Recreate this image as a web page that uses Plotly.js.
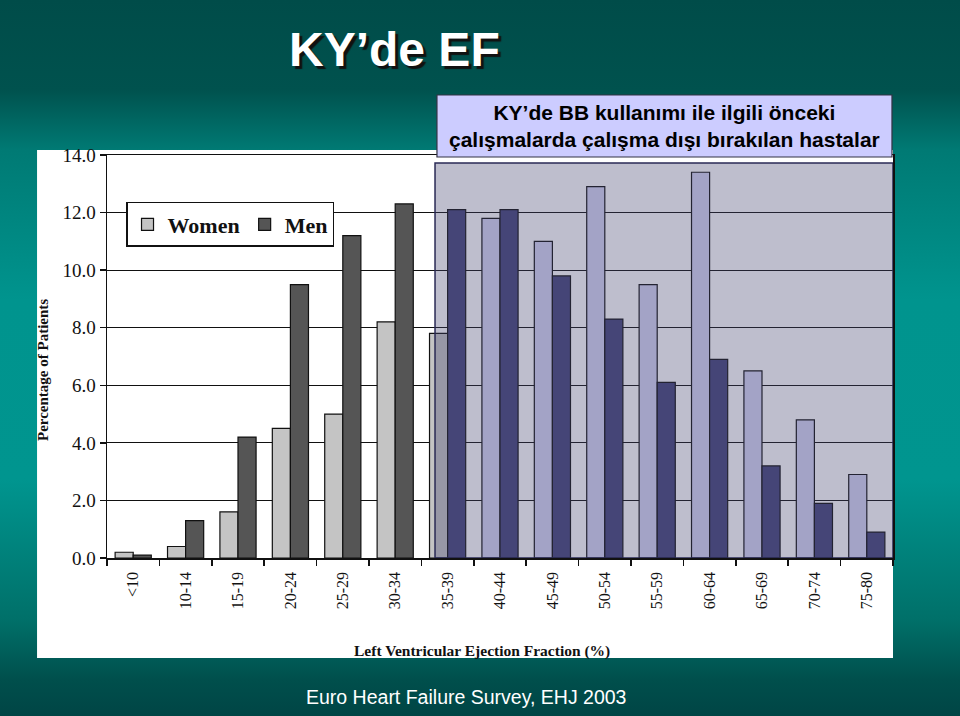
<!DOCTYPE html>
<html>
<head>
<meta charset="utf-8">
<script src="https://cdn.plot.ly/plotly-3.0.1.min.js"></script>
<style>
  html, body { margin: 0; padding: 0; width: 960px; height: 716px; overflow: hidden; }
  body {
    background: linear-gradient(to bottom,
      #004c49 0px, #00524e 90px, #007a74 150px, #00948e 300px,
      #00958f 480px, #007069 620px, #004f4c 680px, #004545 716px);
  }
  #chart { width: 960px; height: 716px; }
</style>
</head>
<body>
<div id="chart"></div>
<script>
// ---- data ----
const categories = ['<10', '10-14', '15-19', '20-24', '25-29', '30-34', '35-39',
                    '40-44', '45-49', '50-54', '55-59', '60-64', '65-69', '70-74', '75-80'];
const women = [0.2, 0.4, 1.6, 4.5, 5.0, 8.2, 7.8, 11.8, 11.0, 12.9, 9.5, 13.4, 6.5, 4.8, 2.9];
const men   = [0.1, 1.3, 4.2, 9.5, 11.2, 12.3, 12.1, 12.1, 9.8, 8.3, 6.1, 6.9, 3.2, 1.9, 0.9];
const seriesNames = ['Women', 'Men'];

const titleText = 'KY\u2019de EF';
const boxText = 'KY\u2019de BB kullanımı ile ilgili önceki<br>çalışmalarda çalışma dışı bırakılan hastalar';
const sourceText = 'Euro Heart Failure Survey, EHJ 2003';
const xTitle = 'Left Ventricular Ejection Fraction (%)';
const yTitle = 'Percentage of Patients';

// ---- styling ----
const EXCL = 6; // index of first category under the highlight box
const womenColors = categories.map((c, i) => i > EXCL ? '#d6d6f4' : '#c4c4c4');
const menColors = categories.map((c, i) => i >= EXCL ? '#46467c' : '#555555');
const serif = 'Liberation Serif, Times New Roman, serif';
const sans = 'Liberation Sans, Arial, sans-serif';

const traces = [
  { type: 'bar', name: seriesNames[0], x: categories, y: women,
    marker: { color: womenColors, line: { color: '#111', width: 1.2 } } },
  { type: 'bar', name: seriesNames[1], x: categories, y: men,
    marker: { color: menColors, line: { color: '#111', width: 1.2 } } }
];

const layout = {
  width: 960, height: 716,
  margin: { l: 107, r: 67, t: 155, b: 158 },
  paper_bgcolor: 'rgba(0,0,0,0)',
  plot_bgcolor: '#ffffff',
  barmode: 'group', bargap: 0.31, bargroupgap: 0,
  showlegend: true,
  legend: {
    orientation: 'h', x: 0.0242, y: 0.8834, xanchor: 'left', yanchor: 'top',
    bgcolor: '#ffffff', bordercolor: '#111', borderwidth: 1.5,
    font: { family: serif, size: 22, color: '#111', weight: 'bold' },
    itemwidth: 30
  },
  xaxis: {
    type: 'category', showgrid: false,
    showline: true, mirror: true, linecolor: '#111', linewidth: 1.5,
    ticks: 'outside', tickson: 'boundaries', ticklen: 6, tickcolor: '#111', tickwidth: 1.5,
    tickangle: -90, ticklabelstandoff: 6,
    tickfont: { family: serif, size: 16, color: '#111' },
    range: [-0.5, 14.5], fixedrange: true
  },
  yaxis: {
    range: [0, 14], dtick: 2, tickformat: '.1f',
    showgrid: true, gridcolor: '#111', gridwidth: 1.2,
    showline: true, mirror: true, linecolor: '#111', linewidth: 1.5,
    ticks: 'outside', ticklen: 6, tickcolor: '#111', tickwidth: 1.5,
    tickfont: { family: serif, size: 19, color: '#111' },
    zeroline: false, fixedrange: true
  },
  shapes: [
    // white chart panel
    { type: 'rect', xref: 'paper', yref: 'paper', layer: 'below',
      x0: -0.089, x1: 1.0, y0: -0.248, y1: 1.0124,
      fillcolor: '#ffffff', line: { width: 0 } },
    // highlight overlay on excluded categories
    { type: 'rect', xref: 'x', yref: 'y', layer: 'above',
      x0: 5.76, x1: 14.5, y0: 0, y1: 13.72,
      fillcolor: 'rgba(69,69,112,0.35)', line: { color: '#2a2a55', width: 1.5 } },
    // caption box
    { type: 'rect', xref: 'paper', yref: 'paper', layer: 'above',
      x0: 0.4198, x1: 0.9987, y0: 0.995, y1: 1.1489,
      fillcolor: '#ccccff', line: { color: '#333344', width: 1.2 } }
  ],
  annotations: [
    { text: titleText, xref: 'paper', yref: 'paper', x: 0.3664, y: 1.263,
      xanchor: 'center', yanchor: 'middle', showarrow: false,
      font: { family: sans, size: 48, color: '#ffffff', weight: 'bold',
              shadow: '3px 3px 1px #111' } },
    { text: boxText, xref: 'paper', yref: 'paper', x: 0.7087, y: 1.072,
      xanchor: 'center', yanchor: 'middle', showarrow: false, align: 'center',
      font: { family: sans, size: 21, color: '#000000', weight: 'bold' } },
    { text: yTitle, xref: 'paper', yref: 'paper', x: -0.0814, y: 0.4665,
      xanchor: 'center', yanchor: 'middle', showarrow: false, textangle: -90,
      font: { family: serif, size: 15, color: '#111', weight: 'bold' } },
    { text: xTitle, xref: 'paper', yref: 'paper', x: 0.477, y: -0.2308,
      xanchor: 'center', yanchor: 'middle', showarrow: false,
      font: { family: serif, size: 15.5, color: '#111', weight: 'bold' } },
    { text: sourceText, xref: 'paper', yref: 'paper', x: 0.4567, y: -0.345,
      xanchor: 'center', yanchor: 'middle', showarrow: false,
      font: { family: sans, size: 19.5, color: '#ffffff' } }
  ],
  hovermode: false
};

Plotly.newPlot('chart', traces, layout, { displayModeBar: false, staticPlot: true });
</script>
</body>
</html>
